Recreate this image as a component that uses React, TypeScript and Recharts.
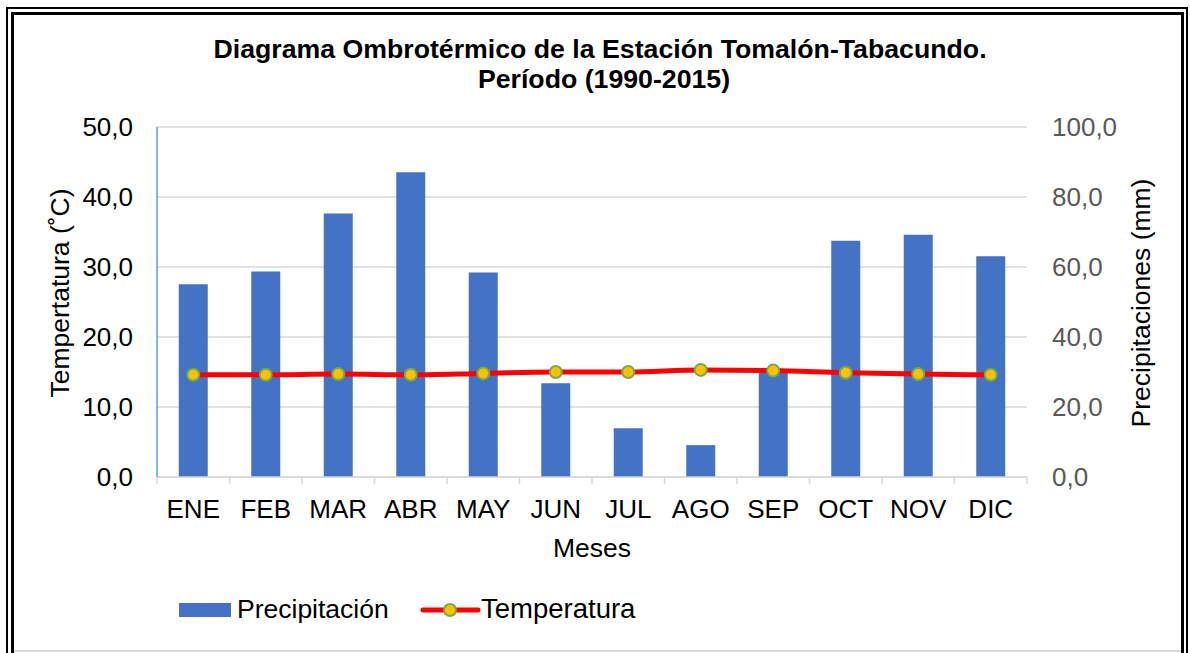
import { ComposedChart, Bar, Line, XAxis, YAxis, CartesianGrid, Label } from 'recharts'

const months = ['ENE', 'FEB', 'MAR', 'ABR', 'MAY', 'JUN', 'JUL', 'AGO', 'SEP', 'OCT', 'NOV', 'DIC']
const precipitation = [55.1, 58.7, 75.3, 87.1, 58.4, 26.8, 13.9, 9.1, 30.0, 67.5, 69.2, 63.1]
const temperature = [14.6, 14.6, 14.7, 14.6, 14.8, 15.0, 15.0, 15.3, 15.2, 14.9, 14.7, 14.6]
const tempTicks = [0, 10, 20, 30, 40, 50]
const precipTicks = [0, 20, 40, 60, 80, 100]

const titleLines = ['Diagrama Ombrotérmico de la Estación Tomalón-Tabacundo.', 'Período (1990-2015)']
const seriesNames = { precip: 'Precipitación', temp: 'Temperatura' }

const data = months.map((m, i) => ({ month: m, precip: precipitation[i], temp: temperature[i] }))

const FONT = '"Liberation Sans", Arial, sans-serif'
const W = 1190
const H = 653
const PLOT_LEFT = 157
const PLOT_RIGHT = 1027
const PLOT_TOP = 127
const PLOT_BOTTOM = 477
const X_AXIS_H = 90

const fmt = (v: number) => v.toFixed(1).replace('.', ',')

function MonthTick(props: any) {
  const { x, y, payload, index, visibleTicksCount } = props
  const half = (PLOT_RIGHT - PLOT_LEFT) / months.length / 2
  const last = index === visibleTicksCount - 1
  return (
    <g>
      <line x1={x - half} x2={x - half} y1={y} y2={y + 7} stroke="#D9D9D9" strokeWidth={1.5} />
      {last && <line x1={x + half} x2={x + half} y1={y} y2={y + 7} stroke="#D9D9D9" strokeWidth={1.5} />}
      <text x={x} y={y + 41} textAnchor="middle" fill="#000" fontSize={26} fontFamily={FONT}>
        {payload.value}
      </text>
    </g>
  )
}

export default function App() {
  return (
    <div style={{ position: 'absolute', left: 0, top: 0, width: W, height: H, overflow: 'hidden', background: '#fff', fontFamily: FONT }}>
      {/* marco doble */}
      <div style={{ position: 'absolute', left: 6, top: 7, width: 1182, height: 720, border: '2px solid #000', boxSizing: 'border-box' }} />
      <div style={{ position: 'absolute', left: 11, top: 12, width: 1173, height: 720, border: '3px solid #000', boxSizing: 'border-box' }} />
      <div style={{ position: 'absolute', left: 14, top: 650, width: 1167, height: 1.5, background: '#D9D9D9' }} />

      {titleLines.map((t, i) => (
        <div
          key={i}
          style={{
            position: 'absolute', left: 5, width: W, top: 33 + i * 30, textAlign: 'center',
            fontWeight: 'bold', fontSize: 26.7, lineHeight: '32px', color: '#000', paddingLeft: i === 0 ? 0 : 8, boxSizing: 'border-box',
          }}
        >
          {t}
        </div>
      ))}

      <div style={{ position: 'absolute', left: 0, top: 0 }}>
        <ComposedChart
          width={W}
          height={H}
          data={data}
          barCategoryGap="30%"
          margin={{ top: PLOT_TOP, right: 0, left: 0, bottom: H - PLOT_BOTTOM - X_AXIS_H }}
        >
          <CartesianGrid yAxisId="left" vertical={false} stroke="#D9D9D9" strokeWidth={1.5} />
          <XAxis
            dataKey="month"
            height={X_AXIS_H}
            axisLine={{ stroke: '#D9D9D9', strokeWidth: 1.5 }}
            tickLine={false}
            tickSize={0}
            tickMargin={0}
            interval={0}
            tick={<MonthTick />}
          >
            <Label
              content={({ viewBox }: any) => (
                <text x={592} y={viewBox.y + 80} textAnchor="middle" fontSize={26.5} fontFamily={FONT} fill="#000">
                  Meses
                </text>
              )}
            />
          </XAxis>
          <YAxis
            yAxisId="left"
            orientation="left"
            width={PLOT_LEFT}
            domain={[0, 50]}
            ticks={tempTicks}
            tickFormatter={fmt}
            axisLine={{ stroke: '#5B9BD5', strokeWidth: 1.5 }}
            tickLine={false}
            tickSize={0}
            tickMargin={24}
            tick={{ fill: '#000', fontSize: 26, fontFamily: FONT }}
          >
            <Label
              content={({ viewBox }: any) => {
                const cx = viewBox.x + 60
                const cy = viewBox.y + viewBox.height / 2 - 9
                return (
                  <text x={cx} y={cy} dy="0.35em" textAnchor="middle" transform={`rotate(-90, ${cx}, ${cy})`} fontSize={26.5} fontFamily={FONT} fill="#000">
                    Tempertatura (˚C)
                  </text>
                )
              }}
            />
          </YAxis>
          <YAxis
            yAxisId="right"
            orientation="right"
            width={W - PLOT_RIGHT}
            domain={[0, 100]}
            ticks={precipTicks}
            tickFormatter={fmt}
            axisLine={false}
            tickLine={false}
            tickSize={0}
            tickMargin={25}
            tick={{ fill: '#595959', fontSize: 26, fontFamily: FONT }}
          >
            <Label
              content={({ viewBox }: any) => {
                const cx = viewBox.x + 114
                const cy = viewBox.y + viewBox.height / 2 + 1
                return (
                  <text x={cx} y={cy} dy="0.35em" textAnchor="middle" transform={`rotate(-90, ${cx}, ${cy})`} fontSize={26.5} fontFamily={FONT} fill="#000">
                    Precipitaciones (mm)
                  </text>
                )
              }}
            />
          </YAxis>
          <Bar yAxisId="right" dataKey="precip" name={seriesNames.precip} fill="#4472C4" isAnimationActive={false} />
          <Line
            yAxisId="left"
            dataKey="temp"
            name={seriesNames.temp}
            type="monotone"
            stroke="#FF0000"
            strokeWidth={5}
            dot={{ r: 6, fill: '#FFC000', stroke: '#70AD47', strokeWidth: 2 }}
            isAnimationActive={false}
          />
        </ComposedChart>
      </div>

      {/* leyenda */}
      <div style={{ position: 'absolute', left: 179, top: 603, width: 52, height: 14, background: '#4472C4' }} />
      <div style={{ position: 'absolute', left: 237, top: 594, fontSize: 26.5, lineHeight: '30px', color: '#000' }}>{seriesNames.precip}</div>
      <svg style={{ position: 'absolute', left: 420, top: 596 }} width={62} height={28}>
        <line x1={3} x2={58} y1={14} y2={14} stroke="#FF0000" strokeWidth={5} strokeLinecap="round" />
        <circle cx={30} cy={14} r={6} fill="#FFC000" stroke="#70AD47" strokeWidth={2} />
      </svg>
      <div style={{ position: 'absolute', left: 481, top: 594, fontSize: 27.5, lineHeight: '30px', color: '#000' }}>{seriesNames.temp}</div>
    </div>
  )
}
